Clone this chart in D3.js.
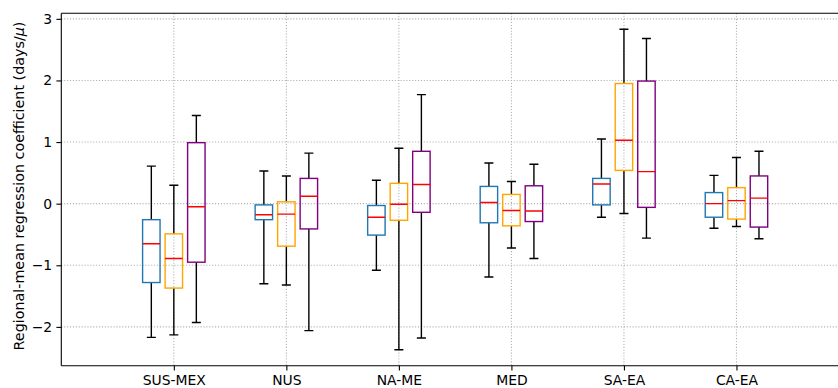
<!DOCTYPE html>
<html>
<head>
<meta charset="utf-8">
<script src="https://cdn.jsdelivr.net/npm/d3@7"></script>
<style>
  html, body { margin: 0; padding: 0; background: #fff; }
  svg { display: block; font-family: "DejaVu Sans", sans-serif; }
</style>
</head>
<body>
<svg id="chart" width="838" height="388"></svg>
<script>
// ---- data ----
const regions = ["SUS-MEX", "NUS", "NA-ME", "MED", "SA-EA", "CA-EA"];
const yTicks = [-2, -1, 0, 1, 2, 3];
const seriesColors = ["#1f77b4", "orange", "purple"];
// each row: [whisker low, Q1, median, Q3, whisker high]
const seriesBlue = [
  [-2.17, -1.28, -0.65, -0.26, 0.61],
  [-1.30, -0.26, -0.18, -0.02, 0.53],
  [-1.08, -0.51, -0.22, -0.03, 0.38],
  [-1.19, -0.31, 0.02, 0.28, 0.66],
  [-0.22, -0.02, 0.32, 0.41, 1.05],
  [-0.40, -0.22, 0.00, 0.18, 0.46]
];
const seriesOrange = [
  [-2.13, -1.37, -0.89, -0.49, 0.30],
  [-1.32, -0.69, -0.17, 0.03, 0.45],
  [-2.37, -0.27, -0.01, 0.33, 0.90],
  [-0.72, -0.36, -0.11, 0.15, 0.36],
  [-0.16, 0.54, 1.03, 1.95, 2.83],
  [-0.37, -0.25, 0.05, 0.26, 0.75]
];
const seriesPurple = [
  [-1.93, -0.95, -0.05, 0.99, 1.43],
  [-2.06, -0.41, 0.12, 0.41, 0.82],
  [-2.18, -0.14, 0.31, 0.85, 1.77],
  [-0.89, -0.29, -0.12, 0.29, 0.64],
  [-0.56, -0.06, 0.52, 1.99, 2.68],
  [-0.57, -0.38, 0.09, 0.45, 0.85]
];
const allSeries = [seriesBlue, seriesOrange, seriesPurple];
const groupOffsets = [-0.2, 0, 0.2];

(function () {
// ---- layout ----
const svg = d3.select("#chart");
const pLeft = 61.3, pTop = 13.3, pBottom = 365.7, pRightFull = 849;
const x = d3.scaleLinear().domain([0, 7]).range([pLeft, pRightFull]);
const y = d3.scaleLinear().domain([-2.63, 3.09]).range([pBottom, pTop]);
const boxW = 0.155, capW = 0.08;

svg.append("defs").append("clipPath").attr("id", "clip")
  .append("rect").attr("x", pLeft).attr("y", pTop - 2)
  .attr("width", pRightFull - pLeft).attr("height", pBottom - pTop + 4);

const plot = svg.append("g").attr("clip-path", "url(#clip)");

// grid
const gridStyle = g => g.attr("stroke", "#b0b0b0").attr("stroke-width", 1.1)
  .attr("stroke-dasharray", "1.1,1.8");
plot.append("g").selectAll("line").data(yTicks).join("line")
  .attr("x1", pLeft).attr("x2", pRightFull)
  .attr("y1", d => y(d)).attr("y2", d => y(d)).call(gridStyle);
plot.append("g").selectAll("line").data(regions).join("line")
  .attr("x1", (d, i) => x(i + 1)).attr("x2", (d, i) => x(i + 1))
  .attr("y1", pTop).attr("y2", pBottom).call(gridStyle);

// boxes
allSeries.forEach((series, s) => {
  const g = plot.append("g");
  const items = series.map((st, i) => ({ st, c: i + 1 + groupOffsets[s] }));
  const grp = g.selectAll("g").data(items).join("g");
  grp.append("line").attr("x1", d => x(d.c)).attr("x2", d => x(d.c))
    .attr("y1", d => y(d.st[0])).attr("y2", d => y(d.st[1]))
    .attr("stroke", "black").attr("stroke-width", 1.4);
  grp.append("line").attr("x1", d => x(d.c)).attr("x2", d => x(d.c))
    .attr("y1", d => y(d.st[3])).attr("y2", d => y(d.st[4]))
    .attr("stroke", "black").attr("stroke-width", 1.4);
  [0, 4].forEach(k => {
    grp.append("line")
      .attr("x1", d => x(d.c - capW / 2)).attr("x2", d => x(d.c + capW / 2))
      .attr("y1", d => y(d.st[k])).attr("y2", d => y(d.st[k]))
      .attr("stroke", "black").attr("stroke-width", 1.4);
  });
  grp.append("rect")
    .attr("x", d => x(d.c - boxW / 2)).attr("width", d => x(d.c + boxW / 2) - x(d.c - boxW / 2))
    .attr("y", d => y(d.st[3])).attr("height", d => y(d.st[1]) - y(d.st[3]))
    .attr("fill", "none").attr("stroke", seriesColors[s]).attr("stroke-width", 1.4);
  grp.append("line")
    .attr("x1", d => x(d.c - boxW / 2)).attr("x2", d => x(d.c + boxW / 2))
    .attr("y1", d => y(d.st[2])).attr("y2", d => y(d.st[2]))
    .attr("stroke", "red").attr("stroke-width", 1.4);
});

// axes frame (left, top, bottom)
const frame = svg.append("g").attr("stroke", "black").attr("stroke-width", 1.1);
frame.append("line").attr("x1", pLeft).attr("x2", pLeft).attr("y1", pTop).attr("y2", pBottom);
frame.append("line").attr("x1", pLeft).attr("x2", 838).attr("y1", pTop).attr("y2", pTop);
frame.append("line").attr("x1", pLeft).attr("x2", 838).attr("y1", pBottom).attr("y2", pBottom);

// y axis
const fmt = d => (d < 0 ? "\u2212" + Math.abs(d) : String(d));
const yAxis = d3.axisLeft(y).tickValues(yTicks).tickFormat(fmt).tickSize(4.9).tickPadding(4.2);
const ya = svg.append("g").attr("transform", `translate(${pLeft},0)`).call(yAxis);
ya.select(".domain").remove();
ya.selectAll(".tick line").attr("stroke", "black").attr("stroke-width", 1.1);
ya.selectAll(".tick text").attr("font-size", 13.9).attr("fill", "black")
  .attr("font-family", "DejaVu Sans");

// x axis
const xAxis = d3.axisBottom(x).tickValues(regions.map((d, i) => i + 1))
  .tickFormat((d, i) => regions[i]).tickSize(4.9).tickPadding(4.2);
const xa = svg.append("g").attr("transform", `translate(0,${pBottom})`).call(xAxis);
xa.select(".domain").remove();
xa.selectAll(".tick line").attr("stroke", "black").attr("stroke-width", 1.1);
xa.selectAll(".tick text").attr("font-size", 13.9).attr("fill", "black")
  .attr("font-family", "DejaVu Sans");

// y label
const yl = svg.append("text")
  .attr("transform", `translate(23.5,186) rotate(-90)`)
  .attr("text-anchor", "middle").attr("font-size", 14.3).attr("fill", "black");
yl.append("tspan").text("Regional-mean regression coefficient (days/");
yl.append("tspan").attr("font-style", "italic").text("\u03bc");
yl.append("tspan").text(")");
})();
</script>
</body>
</html>
